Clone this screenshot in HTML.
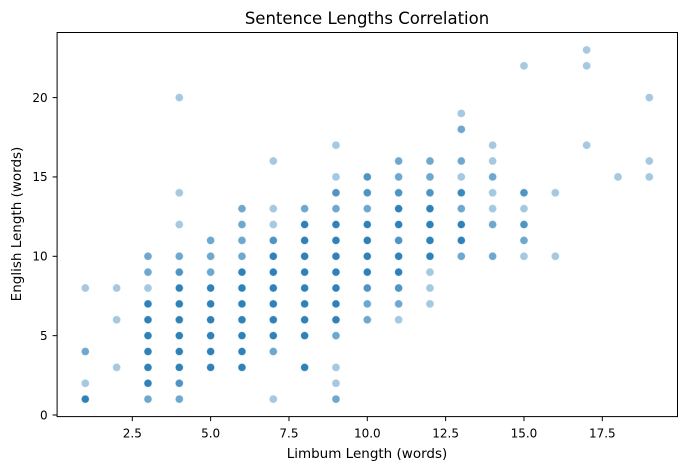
<!DOCTYPE html>
<html><head><meta charset="utf-8"><style>
html,body{margin:0;padding:0;background:#fff;}
svg{display:block;font-family:"DejaVu Sans","Liberation Sans",sans-serif;}
</style></head><body>
<svg id="chart" width="686" height="470" viewBox="0 0 686 470">
<rect x="0" y="0" width="686" height="470" fill="#fff"/>
<text x="367" y="24" text-anchor="middle" font-size="16.5" fill="#000">Sentence Lengths Correlation</text>
<g id="points"></g>
<g id="axes"></g>
<text x="367" y="458" text-anchor="middle" font-size="13.5" fill="#000">Limbum Length (words)</text>
<text transform="translate(21,224) rotate(-90)" text-anchor="middle" font-size="13.5" fill="#000">English Length (words)</text>
</svg>
<script>
const xVals = [1,1,1,1, 2,2,2,
 3,3,3,3,3,3,3,3,3,3,
 4,4,4,4,4,4,4,4,4,4,4,4,4,
 5,5,5,5,5,5,5,5,5,
 6,6,6,6,6,6,6,6,6,6,6,
 7,7,7,7,7,7,7,7,7,7,7,7,
 8,8,8,8,8,8,8,8,8,8,
 9,9,9,9,9,9,9,9,9,9,9,9,9,9,9,
 10,10,10,10,10,10,10,10,10,10,
 11,11,11,11,11,11,11,11,11,11,11,
 12,12,12,12,12,12,12,12,12,12,
 13,13,13,13,13,13,13,13,13,
 14,14,14,14,14,14,14,
 15,15,15,15,15,15,
 16,16, 17,17,17, 18, 19,19,19];
const yVals = [8,4,2,1, 8,6,3,
 10,9,8,7,6,5,4,3,2,1,
 20,14,12,10,9,8,7,6,5,4,3,2,1,
 11,10,9,8,7,6,5,4,3,
 13,12,11,10,9,8,7,6,5,4,3,
 16,13,12,11,10,9,8,7,6,5,4,1,
 13,12,11,10,9,8,7,6,5,3,
 17,15,14,13,12,11,10,9,8,7,6,5,3,2,1,
 15,14,13,12,11,10,9,8,7,6,
 16,15,14,13,12,11,10,9,8,7,6,
 16,15,14,13,12,11,10,9,8,7,
 19,18,16,15,14,13,12,11,10,
 17,16,15,14,13,12,10,
 22,14,13,12,11,10,
 14,10, 23,22,17, 15, 20,16,15];
const counts = [1,2,1,5, 1,1,1,
 2,2,1,5,5,5,5,5,5,2,
 1,1,1,2,3,5,5,5,5,5,5,3,2,
 2,2,2,5,5,5,5,5,5,
 2,2,2,2,5,5,5,5,5,5,5,
 1,1,1,3,5,5,5,5,5,5,2,1,
 2,5,5,5,5,5,5,5,5,5,
 1,1,3,2,5,5,5,5,5,5,5,2,1,1,2,
 3,3,2,5,5,5,5,3,2,2,
 2,2,3,5,5,3,5,5,3,2,1,
 2,2,3,5,5,5,5,1,1,1,
 1,2,2,1,4,2,5,5,2,
 1,1,2,1,1,2,2,
 1,3,1,3,2,1,
 1,1, 1,1,1, 1, 1,1,1];
const xTicks = [2.5,5.0,7.5,10.0,12.5,15.0,17.5];
const xTickLabels = ["2.5","5.0","7.5","10.0","12.5","15.0","17.5"];
const yTicks = [0,5,10,15,20];
const yTickLabels = ["0","5","10","15","20"];

const xMin = 0.1, xMax = 19.9, yMin = -0.1, yMax = 24.1;
const L = 57.1, R = 677.5, T = 32.5, B = 416.6;
function sx(v){ return L + (v - xMin) / (xMax - xMin) * (R - L); }
function sy(v){ return B - (v - yMin) / (yMax - yMin) * (B - T); }
const NS = "http://www.w3.org/2000/svg";
const pg = document.getElementById('points');
for (let i = 0; i < xVals.length; i++) {
  for (let k = 0; k < counts[i]; k++) {
    const c = document.createElementNS(NS, 'circle');
    c.setAttribute('cx', sx(xVals[i]));
    c.setAttribute('cy', sy(yVals[i]));
    c.setAttribute('r', 4);
    c.setAttribute('fill', '#1f77b4');
    c.setAttribute('fill-opacity', '0.4');
    c.setAttribute('stroke', '#fff');
    c.setAttribute('stroke-opacity', '0.4');
    c.setAttribute('stroke-width', '0.7');
    
    
    pg.appendChild(c);
  }
}
const ag = document.getElementById('axes');
const frame = document.createElementNS(NS, 'rect');
frame.setAttribute('x', L); frame.setAttribute('y', T);
frame.setAttribute('width', R - L); frame.setAttribute('height', B - T);
frame.setAttribute('fill', 'none'); frame.setAttribute('stroke', '#000'); frame.setAttribute('stroke-width', '1');


ag.appendChild(frame);
xTicks.forEach((v, i) => {
  const x = sx(v);
  const t = document.createElementNS(NS, 'line');
  t.setAttribute('x1', x); t.setAttribute('x2', x); t.setAttribute('y1', B); t.setAttribute('y2', B + 4.5);
  t.setAttribute('stroke', '#000');
  
  
  ag.appendChild(t);
  const l = document.createElementNS(NS, 'text');
  l.setAttribute('x', x); l.setAttribute('y', B + 21);
  l.setAttribute('text-anchor', 'middle'); l.setAttribute('font-size', '12');
  l.textContent = xTickLabels[i];
  
  
  ag.appendChild(l);
});
yTicks.forEach((v, i) => {
  const y = sy(v);
  const t = document.createElementNS(NS, 'line');
  t.setAttribute('x1', L - 4.5); t.setAttribute('x2', L); t.setAttribute('y1', y); t.setAttribute('y2', y);
  t.setAttribute('stroke', '#000');
  
  
  ag.appendChild(t);
  const l = document.createElementNS(NS, 'text');
  l.setAttribute('x', L - 9.5); l.setAttribute('y', y + 4.3);
  l.setAttribute('text-anchor', 'end'); l.setAttribute('font-size', '12');
  l.textContent = yTickLabels[i];
  
  
  ag.appendChild(l);
});
</script>
</body></html>
